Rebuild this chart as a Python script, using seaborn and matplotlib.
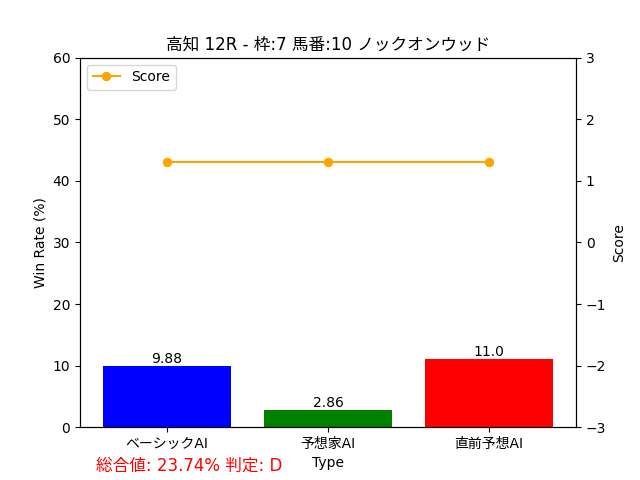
import matplotlib
matplotlib.use("Agg")
import matplotlib.pyplot as plt
import seaborn as sns
import pandas as pd

types = ["ベーシックAI", "予想家AI", "直前予想AI"]
win_rates = [9.88, 2.86, 11.0]
scores = [1.3, 1.3, 1.3]
bar_colors = ["blue", "green", "red"]
title = "高知 12R - 枠:7 馬番:10 ノックオンウッド"
summary = "総合値: 23.74% 判定: D"

plt.rcParams['font.family'] = ['DejaVu Sans', 'Noto Sans CJK JP']
plt.rcParams['axes.unicode_minus'] = True

df = pd.DataFrame({"Type": types, "Win Rate": win_rates, "Score": scores})

fig, ax = plt.subplots(figsize=(6.4, 4.8), dpi=100)
sns.barplot(data=df, x="Type", y="Win Rate", hue="Type", palette=bar_colors,
            saturation=1, legend=False, ax=ax, width=0.8)
for i, v in enumerate(win_rates):
    ax.text(i, v, f"{v}", ha="center", va="bottom", fontsize=10)
ax.set_ylim(0, 60)
ax.set_ylabel("Win Rate (%)")
ax.set_xlabel("Type")
ax.set_title(title)

ax2 = ax.twinx()
sns.lineplot(data=df, x="Type", y="Score", color="orange", marker="o",
             markeredgecolor="orange", markersize=6, label="Score", ax=ax2, sort=False)
ax2.set_ylim(-3, 3)
ax2.set_ylabel("Score")
ax2.legend(loc="upper left")

fig.text(0.15, 0.02, summary, color="red", fontsize=12)
fig.savefig("out.png", dpi=100)
